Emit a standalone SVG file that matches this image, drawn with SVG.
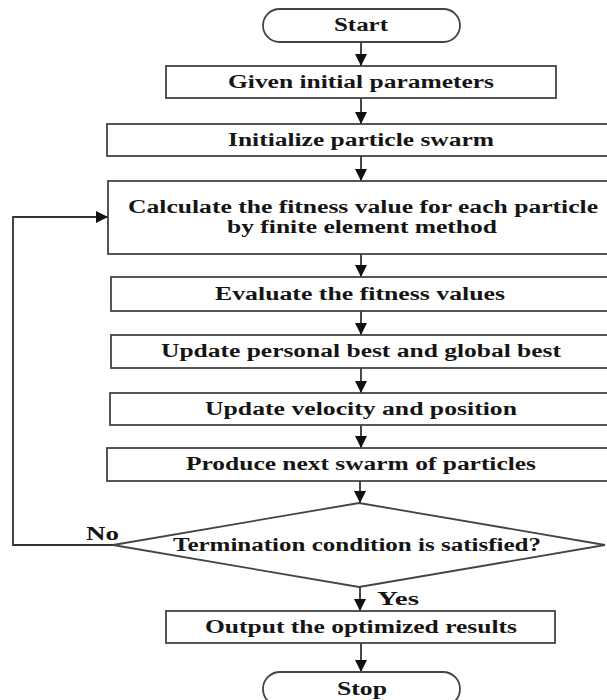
<svg xmlns="http://www.w3.org/2000/svg" width="607" height="700" viewBox="0 0 607 700">
<style>
.box{fill:#fff;stroke:#444;stroke-width:1.8}
.t{font-family:"Liberation Serif","Times New Roman",serif;font-weight:bold;font-size:18px;fill:#151515;text-anchor:middle}
.lbl{font-family:"Liberation Serif","Times New Roman",serif;font-weight:bold;font-size:18px;fill:#151515}
.c{fill:none;stroke:#333;stroke-width:1.8}
</style>
<defs>
<marker id="ah" viewBox="0 0 10 10" markerWidth="12" markerHeight="13" refX="10" refY="5" orient="auto" markerUnits="userSpaceOnUse">
<path d="M0,0 L10,5 L0,10 z" fill="#111"/>
</marker>
</defs>
<rect width="607" height="700" fill="#fff"/>
<g id="connectors">
<line class="c" x1="361" y1="42" x2="361" y2="66" marker-end="url(#ah)"/>
<line class="c" x1="361" y1="98" x2="361" y2="124" marker-end="url(#ah)"/>
<line class="c" x1="361" y1="156" x2="361" y2="181" marker-end="url(#ah)"/>
<line class="c" x1="361" y1="254" x2="361" y2="277" marker-end="url(#ah)"/>
<line class="c" x1="361" y1="311" x2="361" y2="335" marker-end="url(#ah)"/>
<line class="c" x1="361" y1="368" x2="361" y2="393" marker-end="url(#ah)"/>
<line class="c" x1="361" y1="425" x2="361" y2="448" marker-end="url(#ah)"/>
<line class="c" x1="360" y1="481" x2="360" y2="503" marker-end="url(#ah)"/>
<line class="c" x1="360" y1="587" x2="360" y2="611" marker-end="url(#ah)"/>
<line class="c" x1="361" y1="643" x2="361" y2="672" marker-end="url(#ah)"/>
<polyline class="c" points="113,545 13,545 13,217 108,217" marker-end="url(#ah)"/>
<text class="lbl" x="86" y="540" textLength="33" lengthAdjust="spacingAndGlyphs">No</text>
<text class="lbl" x="377" y="605" textLength="42" lengthAdjust="spacingAndGlyphs">Yes</text>
</g>
<g id="start">
<rect class="box" x="263" y="9" width="197" height="33" rx="16.5"/>
<text class="t" x="361" y="31" textLength="54" lengthAdjust="spacingAndGlyphs">Start</text>
</g>
<g id="given">
<rect class="box" x="166" y="66" width="390" height="32"/>
<text class="t" x="361" y="88" textLength="266" lengthAdjust="spacingAndGlyphs">Given initial parameters</text>
</g>
<g id="init">
<rect class="box" x="107" y="124" width="510" height="32"/>
<text class="t" x="361" y="146" textLength="266" lengthAdjust="spacingAndGlyphs">Initialize particle swarm</text>
</g>
<g id="calc">
<rect class="box" x="108" y="181" width="510" height="73"/>
<text class="t" x="363" y="213" textLength="470" lengthAdjust="spacingAndGlyphs">Calculate the fitness value for each particle</text>
<text class="t" x="362" y="233" textLength="270" lengthAdjust="spacingAndGlyphs">by finite element method</text>
</g>
<g id="evaluate">
<rect class="box" x="111" y="277" width="510" height="34"/>
<text class="t" x="360" y="300" textLength="290" lengthAdjust="spacingAndGlyphs">Evaluate the fitness values</text>
</g>
<g id="update-best">
<rect class="box" x="111" y="335" width="510" height="33"/>
<text class="t" x="361" y="357" textLength="400" lengthAdjust="spacingAndGlyphs">Update personal best and global best</text>
</g>
<g id="update-vel">
<rect class="box" x="110" y="393" width="510" height="32"/>
<text class="t" x="361" y="415" textLength="312" lengthAdjust="spacingAndGlyphs">Update velocity and position</text>
</g>
<g id="produce">
<rect class="box" x="107" y="448" width="510" height="33"/>
<text class="t" x="361" y="470" textLength="350" lengthAdjust="spacingAndGlyphs">Produce next swarm of particles</text>
</g>
<g id="decision">
<polygon class="box" points="359,503 605,545 359,587 113,545"/>
<text class="t" x="357" y="551" textLength="368" lengthAdjust="spacingAndGlyphs">Termination condition is satisfied?</text>
</g>
<g id="output">
<rect class="box" x="166" y="611" width="389" height="32"/>
<text class="t" x="361" y="633" textLength="312" lengthAdjust="spacingAndGlyphs">Output the optimized results</text>
</g>
<g id="stop">
<rect class="box" x="263" y="672" width="197" height="34" rx="17"/>
<text class="t" x="362" y="695" textLength="50" lengthAdjust="spacingAndGlyphs">Stop</text>
</g>
</svg>
